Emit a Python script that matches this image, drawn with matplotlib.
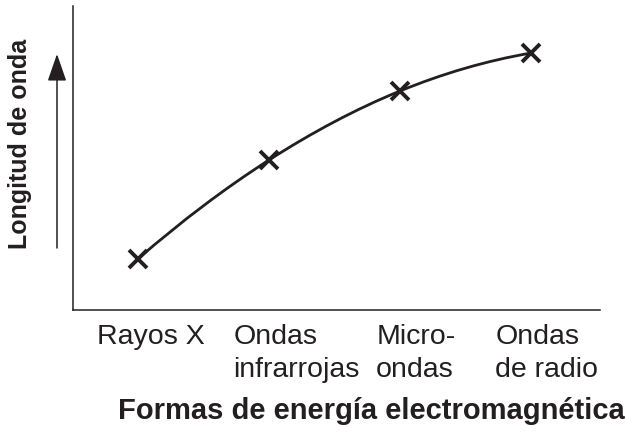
import matplotlib
matplotlib.use("Agg")
import matplotlib.pyplot as plt
from matplotlib.path import Path
from matplotlib.patches import PathPatch, FancyArrowPatch
import numpy as np

# ---- data ----
categories = ["Rayos X", "Ondas\ninfrarrojas", "Micro-\nondas", "Ondas\nde radio"]
wavelength = [1.68, 4.93, 7.20, 8.45]   # relative wavelength (arbitrary units)
xlabel = "Formas de energía electromagnética"
ylabel = "Longitud de onda"

# ---- layout tweaks ----
label_dx = [-0.31, -0.27, -0.18, -0.27]   # left-aligned label offsets (category units)
INK = "#231f20"

plt.rcParams['font.family'] = ['Liberation Sans', 'DejaVu Sans']

W, H = 626, 432
fig = plt.figure(figsize=(W / 100, H / 100), dpi=100)
ax = fig.add_axes([73 / W, 1 - 310 / H, (600 - 73) / W, (310 - 6) / H])
ax.set_xlim(-0.496, 3.53)
ax.set_ylim(0, 10)
for s in ("top", "right"):
    ax.spines[s].set_visible(False)
for s in ("left", "bottom"):
    ax.spines[s].set_color(INK)
    ax.spines[s].set_linewidth(1.1)
ax.set_xticks([])
ax.set_yticks([])

x = np.arange(len(categories), dtype=float)
y = np.array(wavelength, dtype=float)
P = np.column_stack([x, y])
n = len(P)

# smooth curve: cubic Hermite segments drawn as Bezier curves
m = np.zeros_like(P)
for i in range(1, n - 1):
    m[i] = (P[i + 1] - P[i - 1]) / 2.0
m[0] = 2 * (P[1] - P[0]) - m[1]
m[-1] = 2 * (P[-1] - P[-2]) - m[-2]
verts = [P[0]]
codes = [Path.MOVETO]
for i in range(n - 1):
    verts += [P[i] + m[i] / 3.0, P[i + 1] - m[i + 1] / 3.0, P[i + 1]]
    codes += [Path.CURVE4] * 3
ax.add_patch(PathPatch(Path(verts, codes), fill=False, edgecolor=INK,
                       linewidth=2.0, capstyle='round'))
ax.plot(x, y, linestyle='none', marker='x', markersize=12.5,
        markeredgewidth=2.8, color=INK, zorder=3)

# category labels
for i, lab in enumerate(categories):
    ax.text(x[i] + label_dx[i], -0.45, lab, ha='left', va='top',
            fontsize=20.5, color=INK, linespacing=1.38, transform=ax.transData,
            clip_on=False)

# axis titles
fig.text(371 / W, 1 - 411 / H, xlabel, ha='center', va='center',
         fontsize=21, fontweight='bold', color=INK)
fig.text(20 / W, 1 - 144 / H, ylabel, ha='center', va='center', rotation=90,
         fontsize=18, fontweight='bold', color=INK)

# arrow along y label
fig.add_artist(FancyArrowPatch(
    (57 / W, 1 - 248 / H), (57 / W, 1 - 54 / H), transform=fig.transFigure,
    arrowstyle='-|>,head_length=1.3,head_width=0.45', mutation_scale=13,
    color=INK, linewidth=1.1, shrinkA=0, shrinkB=0))

fig.savefig("out.png", dpi=100, facecolor="white")
